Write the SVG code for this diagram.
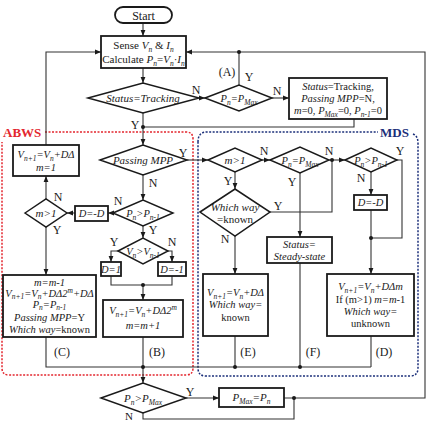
<svg xmlns="http://www.w3.org/2000/svg" width="434" height="422" viewBox="0 0 434 422">
<defs>
<style>
text { font-family: "Liberation Serif", "Times New Roman", serif; font-size: 11px; fill: #1a1a1a; text-anchor: middle; }
.i { font-style: italic; }
.s { font-size: 7.5px; }
.l { font-size: 12px; }
.sm { font-size: 10.5px; }
.box { fill: #fff; stroke: #1a1a1a; stroke-width: 1.8; }
.dia { fill: #fff; stroke: #1a1a1a; stroke-width: 1.5; }
.c { fill: none; stroke: #333; stroke-width: 1.1; }
.a { marker-end: url(#ah); }
.dot { fill: #1a1a1a; }
.abws { fill: none; stroke: #e3262e; stroke-width: 1.5; stroke-dasharray: 2 1.5; }
.mds { fill: none; stroke: #1b2f7a; stroke-width: 1.5; stroke-dasharray: 2 1.5; }
</style>
<marker id="ah" viewBox="0 0 10 10" refX="10" refY="5" markerWidth="6" markerHeight="6" orient="auto" markerUnits="userSpaceOnUse">
<path d="M0,1 L10,5 L0,9 z" fill="#1a1a1a"/>
</marker>
</defs>

<g id="regions">
<path class="abws" d="M45,132 H186 Q193,132 193,139 V368 Q193,375 186,375 H9 Q2,375 2,368 V142"/>
<text x="3" y="137" style="text-anchor:start;font-weight:bold;font-size:13px;fill:#e3262e">ABWS</text>
<path class="mds" d="M198,142 Q198,132 207,132 H378 M413,134 Q418,136 418,143 V368 Q418,376 410,376 H206 Q198,376 198,368 V142"/>
<text x="380" y="137" style="text-anchor:start;font-weight:bold;font-size:13px;fill:#1b2f7a">MDS</text>
</g>

<g id="connectors">
<path class="c a" d="M143,23 V36"/>
<path class="c a" d="M143,68 V83"/>
<path class="c a" d="M199,98 H205"/>
<path class="c" d="M239,85 V52"/>
<path class="c a" d="M272,98 H289"/>
<path class="c" d="M354,119 V127 H143"/>
<path class="c a" d="M143,113 V145"/>
<path class="c a" d="M187,160 H208"/>
<path class="c a" d="M262,160 H270"/>
<path class="c a" d="M329,160 H345"/>
<path class="c" d="M397,160 H402 V238 H371"/>
<path class="c a" d="M371,172 V195"/>
<path class="c a" d="M371,210 V274"/>
<path class="c" d="M371,336 V367"/>
<path class="c a" d="M300,173 V237"/>
<path class="c" d="M300,263 V367"/>
<path class="c a" d="M235,172 V189"/>
<path class="c" d="M270,212 H332 V160"/>
<path class="c a" d="M235,236 V274"/>
<path class="c" d="M235,336 V367"/>
<path class="c" d="M46,337 V367 H371"/>
<path class="c a" d="M143,175 V200"/>
<path class="c a" d="M113,213 H108"/>
<path class="c a" d="M75,213 H67"/>
<path class="c a" d="M46,199 V176"/>
<path class="c a" d="M46,145 V52 H101"/>
<path class="c a" d="M46,227 V275"/>
<path class="c a" d="M143,226 V238"/>
<path class="c a" d="M118,251 H111 V262"/>
<path class="c a" d="M168,251 H172 V262"/>
<path class="c" d="M111,276 V285 H172 V276"/>
<path class="c a" d="M143,285 V300"/>
<path class="c" d="M143,337 V367"/>
<path class="c a" d="M143,367 V383"/>
<path class="c a" d="M186,398 H219"/>
<path class="c a" d="M284,398 H425 V52 H186"/>
<path class="c" d="M143,413 V419 H294 V398"/>
<circle class="dot" cx="239" cy="52" r="2"/>
<circle class="dot" cx="143" cy="127" r="2"/>
<circle class="dot" cx="332" cy="160" r="2"/>
<circle class="dot" cx="371" cy="238" r="2"/>
<circle class="dot" cx="143" cy="285" r="2"/>
<circle class="dot" cx="143" cy="367" r="2"/>
<circle class="dot" cx="235" cy="367" r="2"/>
<circle class="dot" cx="300" cy="367" r="2"/>
<circle class="dot" cx="294" cy="398" r="2"/>
<text class="l" x="196" y="94">N</text>
<text class="l" x="249" y="81">Y</text>
<text class="l" x="227" y="76">(A)</text>
<text class="l" x="277" y="95">N</text>
<text class="l" x="135" y="129">Y</text>
<text class="l" x="183" y="157">Y</text>
<text class="l" x="264" y="155">N</text>
<text class="l" x="329" y="155">N</text>
<text class="l" x="400" y="155">Y</text>
<text class="l" x="361" y="182">N</text>
<text class="l" x="292" y="186">Y</text>
<text class="l" x="228" y="185">Y</text>
<text class="l" x="278" y="210">Y</text>
<text class="l" x="225" y="243">N</text>
<text class="l" x="153" y="187">N</text>
<text class="l" x="118" y="205">N</text>
<text class="l" x="153" y="234">Y</text>
<text class="l" x="58" y="201">N</text>
<text class="l" x="57" y="234">Y</text>
<text class="l" x="114" y="246">Y</text>
<text class="l" x="172" y="246">N</text>
<text class="l" x="190" y="396">Y</text>
<text x="129" y="420">N</text>
<text class="l" x="62" y="356">(C)</text>
<text class="l" x="157" y="356">(B)</text>
<text class="l" x="248" y="356">(E)</text>
<text class="l" x="313" y="356">(F)</text>
<text class="l" x="384" y="356">(D)</text>
</g>

<g id="start">
<rect class="box" x="115" y="7" width="57" height="16" rx="8"/>
<text class="l" x="143.5" y="19.5">Start</text>
</g>

<g id="sense">
<rect class="box" x="101" y="36" width="85" height="32"/>
<text x="143.5" y="49">Sense <tspan class="i">V</tspan><tspan class="s i" dy="2.5">n</tspan><tspan dy="-2.5"> &amp; </tspan><tspan class="i">I</tspan><tspan class="s i" dy="2.5">n</tspan></text>
<text x="143.5" y="63">Calculate <tspan class="i">P</tspan><tspan class="s i" dy="2.5">n</tspan><tspan dy="-2.5">=</tspan><tspan class="i">V</tspan><tspan class="s i" dy="2.5">n</tspan><tspan dy="-2.5">·</tspan><tspan class="i">I</tspan><tspan class="s i" dy="2.5">n</tspan></text>
</g>

<g id="status-tracking">
<polygon class="dia" points="88,98 143,83 199,98 143,113"/>
<text class="i" x="143" y="102">Status=Tracking</text>
</g>

<g id="check-pmax-a">
<polygon class="dia" points="205,98 239,85 272,98 239,111"/>
<text class="i sm" x="239" y="102">P<tspan class="s" dy="2.5">n</tspan><tspan dy="-2.5">=P</tspan><tspan class="s" dy="2.5">Max</tspan></text>
</g>

<g id="reset">
<rect class="box" x="289" y="78" width="98" height="41"/>
<text class="sm" x="338" y="90"><tspan class="i">Status</tspan>=Tracking,</text>
<text class="sm" x="338" y="102"><tspan class="i">Passing MPP</tspan>=N,</text>
<text class="sm" x="338" y="114"><tspan class="i">m</tspan>=0, <tspan class="i">P</tspan><tspan class="s i" dy="2.5">Max</tspan><tspan dy="-2.5">=0, </tspan><tspan class="i">P</tspan><tspan class="s i" dy="2.5">n-1</tspan><tspan dy="-2.5">=0</tspan></text>
</g>

<g id="passing-mpp">
<polygon class="dia" points="100,160 143,145 187,160 143,175"/>
<text class="i" x="143" y="164">Passing MPP</text>
</g>

<g id="mds-m-gt-1">
<polygon class="dia" points="208,160 235,148 262,160 235,172"/>
<text class="i" x="235" y="164">m&gt;1</text>
</g>

<g id="mds-pn-eq-pmax">
<polygon class="dia" points="270,160 300,147 329,160 300,173"/>
<text class="i sm" x="300" y="164">P<tspan class="s" dy="2.5">n</tspan><tspan dy="-2.5">=P</tspan><tspan class="s" dy="2.5">Max</tspan></text>
</g>

<g id="mds-pn-gt-pn1">
<polygon class="dia" points="345,160 371,148 397,160 371,172"/>
<text class="i sm" x="371" y="164">P<tspan class="s" dy="2.5">n</tspan><tspan dy="-2.5">&gt;P</tspan><tspan class="s" dy="2.5">n-1</tspan></text>
</g>

<g id="mds-d-neg">
<rect class="box" x="354" y="195" width="33" height="15"/>
<text class="i sm" x="370.5" y="206">D=-D</text>
</g>

<g id="which-way">
<polygon class="dia" points="200,212 235,189 270,212 235,236"/>
<text x="235" y="211"><tspan class="i">Which way</tspan></text>
<text x="235" y="223">=known</text>
</g>

<g id="steady-state">
<rect class="box" x="267" y="237" width="65" height="26"/>
<text class="i sm" x="299.5" y="248">Status=</text>
<text class="i sm" x="299.5" y="259.5">Steady-state</text>
</g>

<g id="box-e">
<rect class="box" x="203" y="274" width="65" height="62"/>
<text class="i sm" x="235.5" y="296">V<tspan class="s" dy="2.5">n+1</tspan><tspan dy="-2.5">=V</tspan><tspan class="s" dy="2.5">n</tspan><tspan dy="-2.5">+DΔ</tspan></text>
<text class="i sm" x="235.5" y="308">Which way=</text>
<text class="sm" x="235.5" y="321">known</text>
</g>

<g id="box-d">
<rect class="box" x="327" y="274" width="87" height="62"/>
<text class="i sm" x="370.5" y="290">V<tspan class="s" dy="2.5">n+1</tspan><tspan dy="-2.5">=V</tspan><tspan class="s" dy="2.5">n</tspan><tspan dy="-2.5">+DΔm</tspan></text>
<text class="sm" x="370.5" y="303">If (m&gt;1) <tspan class="i">m=m</tspan>-1</text>
<text class="i sm" x="370.5" y="315">Which way=</text>
<text class="sm" x="370.5" y="327">unknown</text>
</g>

<g id="abws-box-m1">
<rect class="box" x="13" y="145" width="66" height="31"/>
<text class="i sm" x="46" y="158">V<tspan class="s" dy="2.5">n+1</tspan><tspan dy="-2.5">=V</tspan><tspan class="s" dy="2.5">n</tspan><tspan dy="-2.5">+DΔ</tspan></text>
<text class="i sm" x="46" y="171">m=1</text>
</g>

<g id="abws-m-gt-1">
<polygon class="dia" points="25,213 46,199 67,213 46,227"/>
<text class="i" x="46" y="217">m&gt;1</text>
</g>

<g id="abws-d-neg">
<rect class="box" x="75" y="206" width="33" height="15"/>
<text class="i sm" x="91.5" y="217">D=-D</text>
</g>

<g id="abws-pn-gt-pn1">
<polygon class="dia" points="113,213 143,200 173,213 143,226"/>
<text class="i sm" x="143" y="217">P<tspan class="s" dy="2.5">n</tspan><tspan dy="-2.5">&gt;P</tspan><tspan class="s" dy="2.5">n-1</tspan></text>
</g>

<g id="abws-vn-gt-vn1">
<polygon class="dia" points="118,251 143,238 168,251 143,264"/>
<text class="i sm" x="143" y="255">V<tspan class="s" dy="2.5">n</tspan><tspan dy="-2.5">&gt;V</tspan><tspan class="s" dy="2.5">n-1</tspan></text>
</g>

<g id="abws-d1">
<rect class="box" x="101" y="262" width="20" height="14"/>
<text class="i sm" x="111" y="272.5">D=1</text>
</g>

<g id="abws-dm1">
<rect class="box" x="158" y="262" width="28" height="14"/>
<text class="i sm" x="172" y="272.5">D=-1</text>
</g>

<g id="box-b">
<rect class="box" x="103" y="300" width="80" height="37"/>
<text class="i sm" x="143" y="314">V<tspan class="s" dy="2.5">n+1</tspan><tspan dy="-2.5">=V</tspan><tspan class="s" dy="2.5">n</tspan><tspan dy="-2.5">+DΔ2</tspan><tspan class="s" dy="-4">m</tspan></text>
<text class="i sm" x="143" y="329">m=m+1</text>
</g>

<g id="box-c">
<rect class="box" x="3" y="275" width="93" height="62"/>
<text class="i sm" x="49.5" y="285.5">m=m-1</text>
<text class="i sm" x="49.5" y="296.5">V<tspan class="s" dy="2">n+1</tspan><tspan dy="-2">=V</tspan><tspan class="s" dy="2">n</tspan><tspan dy="-2">+DΔ2</tspan><tspan class="s" dy="-4">m</tspan><tspan dy="4">+DΔ</tspan></text>
<text class="i sm" x="49.5" y="307.5">P<tspan class="s" dy="2">n</tspan><tspan dy="-2">=P</tspan><tspan class="s" dy="2">n-1</tspan></text>
<text class="sm" x="49.5" y="320.5"><tspan class="i">Passing MPP</tspan>=Y</text>
<text class="sm" x="49.5" y="332.5"><tspan class="i">Which way</tspan>=known</text>
</g>

<g id="pn-gt-pmax">
<polygon class="dia" points="101,398 143,383 186,398 143,413"/>
<text class="i" x="143" y="402">P<tspan class="s" dy="2.5">n</tspan><tspan dy="-2.5">&gt;P</tspan><tspan class="s" dy="2.5">Max</tspan></text>
</g>

<g id="pmax-update">
<rect class="box" x="219" y="388" width="65" height="19"/>
<text class="i" x="251.5" y="401">P<tspan class="s" dy="2.5">Max</tspan><tspan dy="-2.5">=P</tspan><tspan class="s" dy="2.5">n</tspan></text>
</g>
</svg>
